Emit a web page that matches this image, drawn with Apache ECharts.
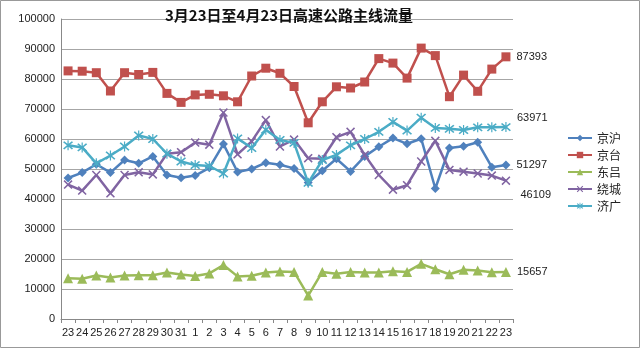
<!DOCTYPE html>
<html><head><meta charset="utf-8">
<script src="https://cdn.jsdelivr.net/npm/echarts@6/dist/echarts.min.js"></script>
<style>html,body{margin:0;padding:0;background:#fff}#c{width:640px;height:348px}</style>
</head><body><div id="c"></div>
<script>
const categories = ['23','24','25','26','27','28','29','30','31','1','2','3','4','5','6','7','8','9','10','11','12','13','14','15','16','17','18','19','20','21','22','23'];
const seriesNames = ['京沪','京台','东吕','绕城','济广'];
const jinghu = [47000,48800,51600,48800,53000,51900,54200,48000,47100,47800,50400,58300,49000,50000,52100,51400,50200,45500,49400,53400,49200,54200,57400,60300,58400,60100,43500,57000,57600,58900,50600,51297];
const jingtai = [82700,82600,82100,76000,82100,81500,82200,75200,72200,74700,74900,74400,72400,81000,83600,81900,77500,65400,72400,77400,77000,79000,86800,85300,80300,90300,87800,74100,81300,75900,83300,87393];
const donglv = [13600,13400,14500,13800,14500,14600,14600,15500,14800,14300,15200,18000,14200,14400,15500,15800,15700,7800,15700,15100,15700,15500,15500,15900,15700,18400,16600,14900,16400,16200,15600,15657];
const raocheng = [44800,42800,48000,41900,48000,48900,48200,55100,55600,58800,58100,68800,54900,59200,66300,57500,59800,53600,53400,60600,62400,54700,48000,43100,44600,52500,59400,49700,49100,48500,47800,46109];
const jiguang = [57900,57200,51900,54500,57500,61200,60000,55100,52500,51300,51000,48500,60200,57000,63100,59700,58700,45400,53000,54700,57900,60000,62400,65700,62800,67100,63700,63400,63000,63900,63900,63971];
const yTicks = [0,10000,20000,30000,40000,50000,60000,70000,80000,90000,100000];

const colors = ['#4F81BD','#C0504D','#9BBB59','#8064A2','#4BACC6'];
const xPath = 'path://M0,1.2L1.2,0L5,3.8L8.8,0L10,1.2L6.2,5L10,8.8L8.8,10L5,6.2L1.2,10L0,8.8L3.8,5Z';
const starPath = 'path://M0,1.2L1.2,0L5,3.8L8.8,0L10,1.2L6.2,5L10,8.8L8.8,10L5,6.2L1.2,10L0,8.8L3.8,5Z M4.4,-1L5.6,-1L5.6,11L4.4,11Z';
const symbols = ['diamond','rect','triangle',xPath,starPath];
const symbolSizes = [9,9,10,9,10];
const labelOffsets = [[0,0],[0,0],[0,0],[4,14],[0,-9]];
const allData = [jinghu, jingtai, donglv, raocheng, jiguang];

const series = allData.map((arr, si) => ({
  name: seriesNames[si],
  type: 'line',
  symbol: symbols[si],
  symbolSize: symbolSizes[si],
  showAllSymbol: true,
  lineStyle: {width: 2.5, color: colors[si]},
  itemStyle: {color: colors[si]},
  z: 2 + si,
  data: arr.map((v, i) => i === arr.length - 1 ? {
    value: v,
    label: {show: true, position: 'right', distance: 6, offset: labelOffsets[si],
      formatter: String(v), color: '#222', fontSize: 11, fontFamily: 'Liberation Sans, Arial'}
  } : v)
}));

const chart = echarts.init(document.getElementById('c'), null, {renderer: 'canvas'});
chart.setOption({
  animation: false,
  backgroundColor: '#fff',
  title: {
    text: '3月23日至4月23日高速公路主线流量',
    left: 160, top: 3,
    textStyle: {fontSize: 15, fontWeight: 'bold', color: '#111', fontFamily: 'Noto Sans CJK SC'}
  },
  legend: {
    orient: 'vertical', left: 562, top: 127,
    itemWidth: 24, itemHeight: 8, itemGap: 5,
    data: seriesNames,
    textStyle: {fontSize: 12, color: '#222', fontFamily: 'Noto Sans CJK SC'}
  },
  grid: {left: 61, right: 127, top: 19, bottom: 29},
  xAxis: {
    type: 'category', data: categories, boundaryGap: true,
    axisLine: {lineStyle: {color: '#888'}},
    axisTick: {show: true, length: 4, lineStyle: {color: '#888'}, interval: 0},
    axisLabel: {interval: 0, color: '#222', fontSize: 11, margin: 8, fontFamily: 'Liberation Sans, Arial'}
  },
  yAxis: {
    type: 'value', min: yTicks[0], max: yTicks[yTicks.length-1], interval: 10000,
    axisLine: {show: true, lineStyle: {color: '#888'}},
    axisTick: {show: false},
    splitLine: {lineStyle: {color: '#A6A6A6', width: 1}},
    axisLabel: {color: '#222', fontSize: 11, margin: 6, fontFamily: 'Liberation Sans, Arial',
      formatter: v => String(v)}
  },
  graphic: [{type: 'rect', shape: {x: 0.5, y: 0.5, width: 639, height: 347},
    style: {fill: 'none', stroke: '#999', lineWidth: 1}, silent: true}],
  series: series
});
</script></body></html>
